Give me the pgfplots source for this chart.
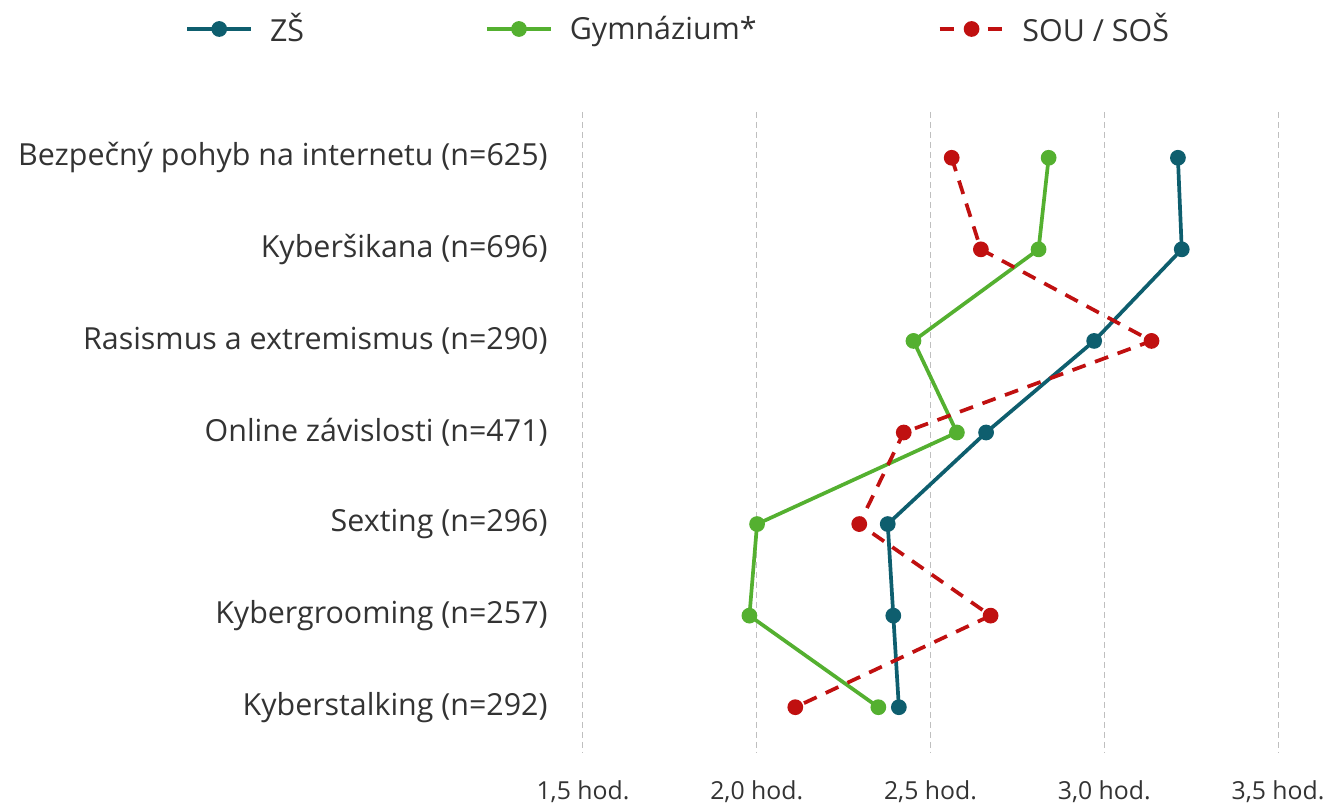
\documentclass[border=0pt]{standalone}
\usepackage{fontspec}
\setmainfont{Open Sans}
\usepackage{pgfplots}
\pgfplotsset{compat=1.18}
\definecolor{zs}{RGB}{14,94,110}
\definecolor{gym}{RGB}{84,176,48}
\definecolor{sou}{RGB}{192,16,16}
\definecolor{txt}{RGB}{51,51,51}
\definecolor{grid}{RGB}{200,200,200}
\begin{document}
\begin{tikzpicture}
\path[use as bounding box] (0,0) rectangle (665pt,403pt);
\begin{axis}[
  at={(282.8pt,26.5pt)}, anchor=south west,
  scale only axis, width=364.9pt, height=320.5pt,
  xmin=1.45, xmax=3.55,
  ymin=0.5, ymax=7.5, y dir=reverse,
  axis line style={draw=none},
  major tick length=0pt,
  xtick={1.5,2,2.5,3,3.5},
  xticklabels={{1,5 hod.},{2,0 hod.},{2,5 hod.},{3,0 hod.},{3,5 hod.}},
  ytick={1,2,3,4,5,6,7},
  yticklabels={{Bezpečný pohyb na internetu (n=625)},{Kyberšikana (n=696)},{Rasismus a extremismus (n=290)},{Online závislosti (n=471)},{Sexting (n=296)},{Kybergrooming (n=257)},{Kyberstalking (n=292)}},
  yticklabel style={font=\fontsize{15.2}{18}\selectfont, text=txt, inner sep=0pt, anchor=east, xshift=-8.8pt},
  xticklabel style={font=\fontsize{12.4}{15}\selectfont, text=txt, inner sep=0pt, anchor=north, yshift=-13.5pt},
  xmajorgrids, ymajorgrids=false,
  major grid style={grid, line width=0.5pt, dash pattern=on 3pt off 2pt},
  legend columns=3,
  legend style={at={(-0.5215,1.1295)}, anchor=west, draw=none, fill=none, inner sep=0pt,
    font=\fontsize{15.2}{18}\selectfont, text=txt,
    /tikz/every odd column/.append style={column sep=6.5pt},
    /tikz/every even column/.append style={column sep=88.5pt}},
  legend cell align=left,
  legend image code/.code={\draw[mark repeat=2,mark phase=2,#1] plot coordinates {(0pt,0pt) (16pt,0pt) (32pt,0pt)};},
  every axis plot/.append style={line width=1.85pt, mark=*, mark size=3pt},
]
\addplot[zs, mark options={solid}] coordinates {(3.212,1) (3.223,2) (2.971,3) (2.660,4) (2.377,5) (2.393,6) (2.409,7)};
\addlegendentry{ZŠ}
\addplot[gym, mark options={solid}] coordinates {(2.840,1) (2.811,2) (2.451,3) (2.576,4) (2.001,5) (1.979,6) (2.350,7)};
\addlegendentry{Gymnázium*}
\addplot[sou, dash pattern=on 7pt off 5pt, mark options={solid}] coordinates {(2.561,1) (2.645,2) (3.136,3) (2.423,4) (2.295,5) (2.673,6) (2.111,7)};
\addlegendentry{SOU / SOŠ}
\end{axis}
\end{tikzpicture}
\end{document}
